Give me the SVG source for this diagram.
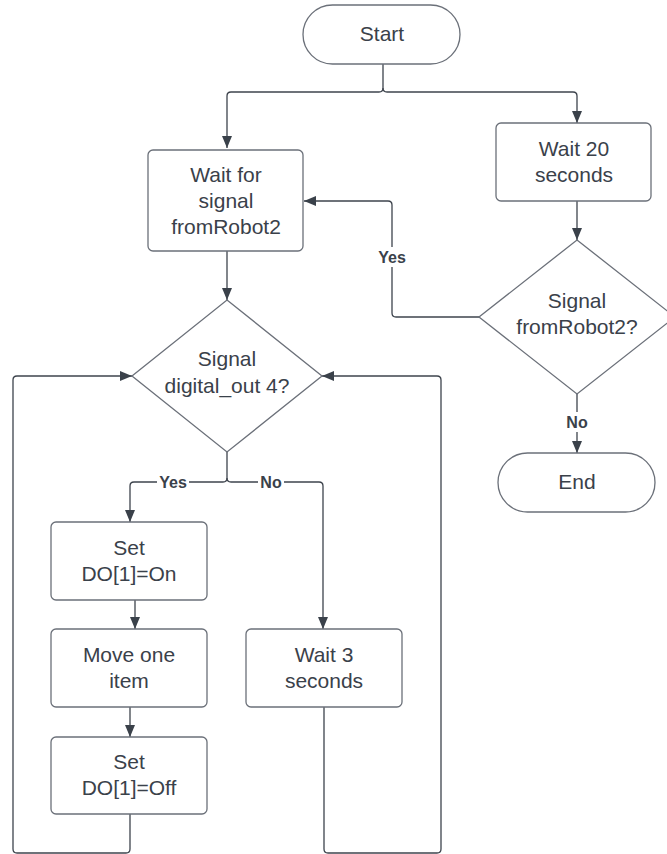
<svg xmlns="http://www.w3.org/2000/svg" width="667" height="854" viewBox="0 0 667 854">
<style>
.shape{fill:#ffffff;stroke:#6b7079;stroke-width:1.3}
.t{font-family:"Liberation Sans",Arial,sans-serif;font-size:21px;fill:#3a414a;text-anchor:middle}
.lbl{font-family:"Liberation Sans",Arial,sans-serif;font-size:16px;font-weight:bold;fill:#3a414a;text-anchor:middle}
.c{fill:none;stroke:#3e444d;stroke-width:1.3;stroke-linejoin:round}
.bg{fill:#ffffff}
</style>
<defs>
<marker id="ah" viewBox="0 0 12 10" refX="12" refY="5" markerWidth="12" markerHeight="10" markerUnits="userSpaceOnUse" orient="auto">
<path d="M0,0 L12,5 L0,10 Z" fill="#3a414a"/>
</marker>
</defs>
<rect width="667" height="854" fill="#ffffff"/>
<g id="connectors">
<path class="c" d="M383,64 V88 Q383,92 379,92 H231 Q227,92 227,96 V148" marker-end="url(#ah)"/>
<path class="c" d="M383,88 Q383,92 387,92 H573 Q577,92 577,96 V123" marker-end="url(#ah)"/>
<path class="c" d="M577,201 V240" marker-end="url(#ah)"/>
<path class="c" d="M479,317 H396 Q392,317 392,313 V205 Q392,201 388,201 H304" marker-end="url(#ah)"/>
<path class="c" d="M577,394 V453" marker-end="url(#ah)"/>
<path class="c" d="M227,251 V300" marker-end="url(#ah)"/>
<path class="c" d="M227,452 V478 Q227,482 223,482 H134 Q130,482 130,486 V522" marker-end="url(#ah)"/>
<path class="c" d="M227,478 Q227,482 231,482 H319 Q323,482 323,486 V629" marker-end="url(#ah)"/>
<path class="c" d="M135,600 V629" marker-end="url(#ah)"/>
<path class="c" d="M130,707 V737" marker-end="url(#ah)"/>
<path class="c" d="M130,814 V849 Q130,853 126,853 H17 Q13,853 13,849 V380 Q13,376 17,376 H132" marker-end="url(#ah)"/>
<path class="c" d="M324,707 V849 Q324,853 328,853 H437 Q441,853 441,849 V380 Q441,376 437,376 H322" marker-end="url(#ah)"/>
<rect class="bg" x="376" y="247" width="32" height="20"/>
<text class="lbl" x="392" y="263">Yes</text>
<rect class="bg" x="563" y="412" width="28" height="20"/>
<text class="lbl" x="577" y="428">No</text>
<rect class="bg" x="157" y="473" width="32" height="18"/>
<text class="lbl" x="173" y="488">Yes</text>
<rect class="bg" x="258" y="473" width="26" height="18"/>
<text class="lbl" x="271" y="488">No</text>
</g>
<g id="start">
<rect class="shape" x="303" y="5" width="157" height="59" rx="29.5"/>
<text class="t" x="382" y="41">Start</text>
</g>
<g id="wait-signal">
<rect class="shape" x="148" y="150" width="155" height="101" rx="5"/>
<text class="t" x="226" y="182">Wait for</text>
<text class="t" x="226" y="208">signal</text>
<text class="t" x="226" y="234">fromRobot2</text>
</g>
<g id="wait-20">
<rect class="shape" x="496" y="123" width="155" height="78" rx="5"/>
<text class="t" x="574" y="156">Wait 20</text>
<text class="t" x="574" y="182">seconds</text>
</g>
<g id="decision-robot2">
<polygon class="shape" points="577,240 675,317 577,394 479,317"/>
<text class="t" x="577" y="308">Signal</text>
<text class="t" x="577" y="334">fromRobot2?</text>
</g>
<g id="end">
<rect class="shape" x="498" y="453" width="157" height="59" rx="29.5"/>
<text class="t" x="577" y="489">End</text>
</g>
<g id="decision-digital">
<polygon class="shape" points="227,300 322,376 227,452 132,376"/>
<text class="t" x="227" y="366">Signal</text>
<text class="t" x="227" y="393">digital_out 4?</text>
</g>
<g id="set-on">
<rect class="shape" x="51" y="522" width="156" height="78" rx="5"/>
<text class="t" x="129" y="555">Set</text>
<text class="t" x="129" y="581">DO[1]=On</text>
</g>
<g id="move-item">
<rect class="shape" x="51" y="629" width="156" height="78" rx="5"/>
<text class="t" x="129" y="662">Move one</text>
<text class="t" x="129" y="688">item</text>
</g>
<g id="set-off">
<rect class="shape" x="51" y="737" width="156" height="77" rx="5"/>
<text class="t" x="129" y="769">Set</text>
<text class="t" x="129" y="795">DO[1]=Off</text>
</g>
<g id="wait-3">
<rect class="shape" x="246" y="629" width="156" height="78" rx="5"/>
<text class="t" x="324" y="662">Wait 3</text>
<text class="t" x="324" y="688">seconds</text>
</g>
</svg>
